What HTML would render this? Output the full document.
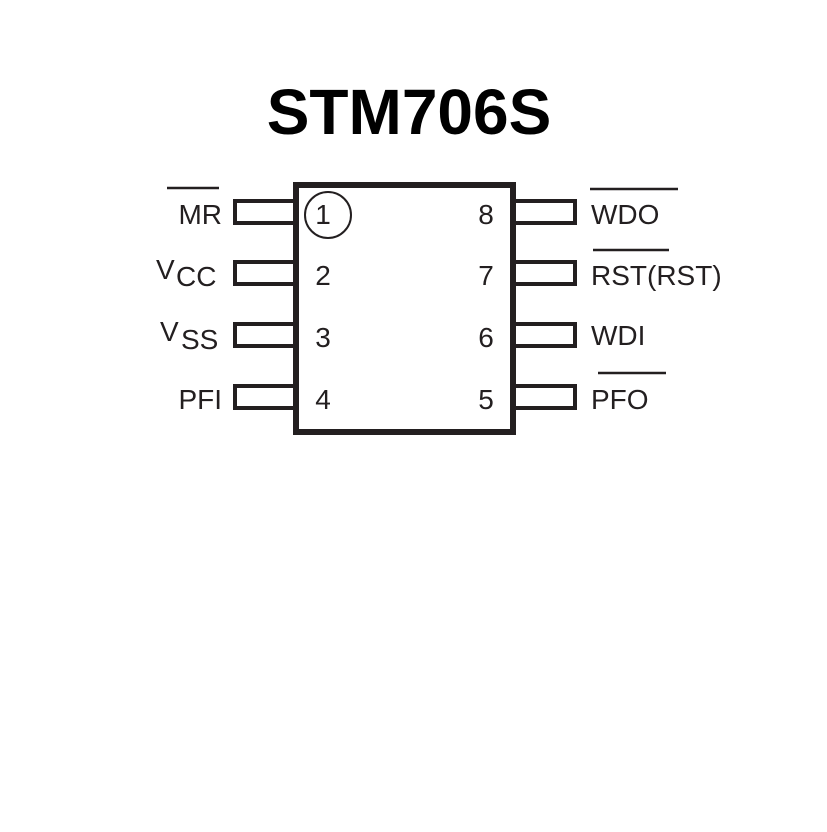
<!DOCTYPE html>
<html><head><style>body{margin:0;background:#fff}</style></head><body>
<svg width="827" height="827" viewBox="0 0 827 827" xmlns="http://www.w3.org/2000/svg">
<rect width="827" height="827" fill="#fff"/>
<text x="409" y="134" text-anchor="middle" font-family="Liberation Sans, sans-serif" font-weight="bold" font-size="64" fill="#000">STM706S</text>
<g fill="none" stroke="#231f20">
<rect x="296" y="185" width="217" height="247" stroke-width="6"/>
<g stroke-width="4">
<rect x="235" y="201" width="60" height="22"/>
<rect x="235" y="262" width="60" height="22"/>
<rect x="235" y="324" width="60" height="22"/>
<rect x="235" y="386" width="60" height="22"/>
<rect x="514" y="201" width="61" height="22"/>
<rect x="514" y="262" width="61" height="22"/>
<rect x="514" y="324" width="61" height="22"/>
<rect x="514" y="386" width="61" height="22"/>
</g>
<circle cx="328" cy="215" r="23" stroke-width="2"/>
<g stroke-width="2.5">
<line x1="167" y1="188" x2="219" y2="188"/>
<line x1="590" y1="189" x2="678" y2="189"/>
<line x1="593" y1="250" x2="669" y2="250"/>
<line x1="598" y1="373" x2="666" y2="373"/>
</g>
</g>
<g font-family="Liberation Sans, sans-serif" font-size="28" fill="#231f20">
<text x="323" y="224" text-anchor="middle">1</text>
<text x="323" y="285" text-anchor="middle">2</text>
<text x="323" y="347" text-anchor="middle">3</text>
<text x="323" y="409" text-anchor="middle">4</text>
<text x="486" y="224" text-anchor="middle">8</text>
<text x="486" y="285" text-anchor="middle">7</text>
<text x="486" y="347" text-anchor="middle">6</text>
<text x="486" y="409" text-anchor="middle">5</text>
<text x="222" y="224" text-anchor="end">MR</text>
<text x="156" y="279">V</text><text x="176" y="286">CC</text>
<text x="160" y="341">V</text><text x="181" y="349">SS</text>
<text x="222" y="409" text-anchor="end">PFI</text>
<text x="591" y="224">WDO</text>
<text x="591" y="285">RST(RST)</text>
<text x="591" y="345">WDI</text>
<text x="591" y="409">PFO</text>
</g>
</svg>
</body></html>
